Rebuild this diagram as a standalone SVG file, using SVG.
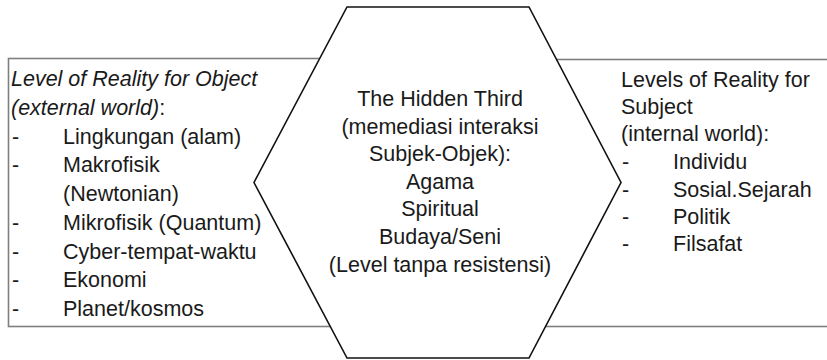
<svg xmlns="http://www.w3.org/2000/svg" width="827" height="360" viewBox="0 0 827 360">
  <style>
    .panel { fill: #ffffff; stroke: #7f7f7f; stroke-width: 1.6; }
    .hex { fill: #ffffff; stroke: #111111; stroke-width: 1.6; stroke-linejoin: miter; }
    text { font-family: "Liberation Sans", Arial, sans-serif; font-size: 21.5px; fill: #1a1a1a; }
    .it { font-style: italic; }
    .mid { text-anchor: middle; }
  </style>
  <rect width="827" height="360" fill="#ffffff"/>

  <!-- Object side: external world levels -->
  <g id="object-levels">
    <rect class="panel" x="8.5" y="58.5" width="400" height="268"/>
    <text x="11" y="86"><tspan class="it">Level of Reality for Object</tspan></text>
    <text x="11" y="114.75"><tspan class="it">(external world)</tspan>:</text>
    <text x="12" y="143.5">-</text><text x="63" y="143.5">Lingkungan (alam)</text>
    <text x="12" y="172.25">-</text><text x="63" y="172.25">Makrofisik</text>
    <text x="63" y="201">(Newtonian)</text>
    <text x="12" y="229.75">-</text><text x="63" y="229.75">Mikrofisik (Quantum)</text>
    <text x="12" y="258.5">-</text><text x="63" y="258.5">Cyber-tempat-waktu</text>
    <text x="12" y="287.25">-</text><text x="63" y="287.25">Ekonomi</text>
    <text x="12" y="316">-</text><text x="63" y="316">Planet/kosmos</text>
  </g>

  <!-- Subject side: internal world levels -->
  <g id="subject-levels">
    <rect class="panel" x="480" y="59.5" width="400" height="267"/>
    <text x="621" y="87">Levels of Reality for</text>
    <text x="621" y="114.2">Subject</text>
    <text x="621" y="141.4">(internal world):</text>
    <text x="622" y="168.6">-</text><text x="673" y="168.6">Individu</text>
    <text x="622" y="196.8">-</text><text x="673" y="196.8">Sosial.Sejarah</text>
    <text x="622" y="224">-</text><text x="673" y="224">Politik</text>
    <text x="622" y="251.2">-</text><text x="673" y="251.2">Filsafat</text>
  </g>

  <!-- Mediating hexagon -->
  <g id="hidden-third">
    <polygon class="hex" points="347,7 529,7 621,182.5 529,358 347,358 254,182.5"/>
    <text class="mid" x="440" y="106">The Hidden Third</text>
    <text class="mid" x="440" y="133.6">(memediasi interaksi</text>
    <text class="mid" x="440" y="161.2">Subjek-Objek):</text>
    <text class="mid" x="440" y="188.8">Agama</text>
    <text class="mid" x="440" y="216.4">Spiritual</text>
    <text class="mid" x="440" y="244">Budaya/Seni</text>
    <text class="mid" x="440" y="271.6">(Level tanpa resistensi)</text>
  </g>

  <g id="connectors"></g>
</svg>
